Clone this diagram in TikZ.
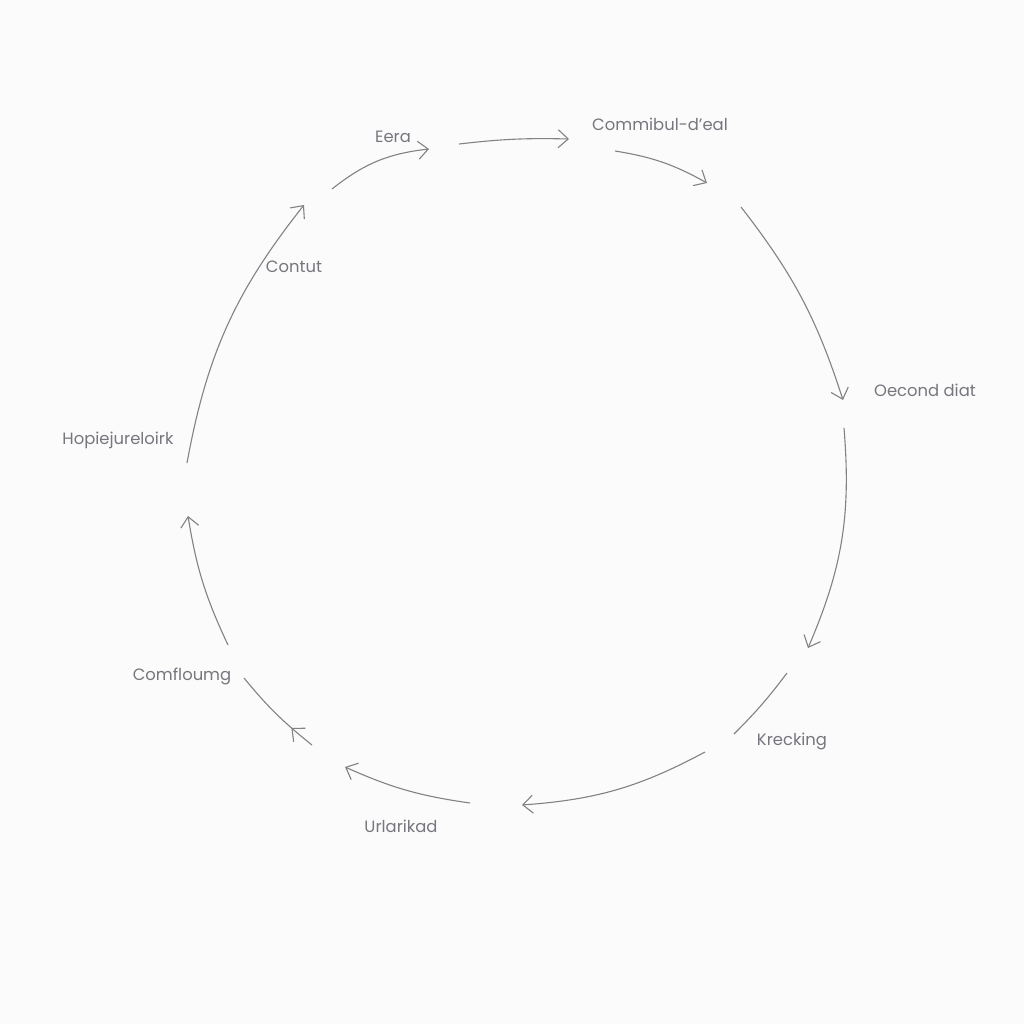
\documentclass[tikz,border=0pt]{standalone}
\usepackage{fontspec}
\setmainfont{Poppins}
\usetikzlibrary{arrows.meta,decorations.markings}
\definecolor{bgc}{RGB}{251,251,251}
\definecolor{linec}{RGB}{130,130,133}
\definecolor{textc}{RGB}{118,118,126}
\tikzset{
  lbl/.style={font=\fontsize{8.2}{10}\selectfont, text=textc, inner sep=0pt},
  conn/.style={draw=linec, line width=0.55pt, -{Straight Barb[length=5pt,width=9pt,line width=0.55pt]}},
  plain/.style={draw=linec, line width=0.55pt},
}
\begin{document}
\begin{tikzpicture}[x=0.5pt,y=-0.5pt]
\fill[bgc] (0,0) rectangle (1024,1024);
\useasboundingbox (0,0) rectangle (1024,1024);
% labels
\node[lbl] (eera) at (393,137) {Eera};
\node[lbl] (comm) at (660,124) {Commibul-d'eal};
\node[lbl] (cont) at (294,267) {Contut};
\node[lbl] (oec) at (925,390) {Oecond diat};
\node[lbl] (hop) at (118,440) {Hopiejureloirk};
\node[lbl] (comf) at (182,676) {Comfloumg};
\node[lbl] (url) at (401,826) {Urlarikad};
\node[lbl] (kre) at (792,741) {Krecking};
% endpoints
\coordinate (a1) at (332,189); \coordinate (b1) at (429,149);
\coordinate (a2) at (459,144); \coordinate (b2) at (569,139);
\coordinate (a3) at (615,151); \coordinate (b3) at (707,183);
\coordinate (a4) at (741,207); \coordinate (b4) at (843,400);
\coordinate (a5) at (844,428); \coordinate (b5) at (808,648);
\coordinate (a6) at (787,673); \coordinate (b6) at (734,734);
\coordinate (a7) at (705,752); \coordinate (b7) at (522,805);
\coordinate (a8) at (470,803); \coordinate (b8) at (345,767);
\coordinate (a9) at (312,745); \coordinate (b9) at (244,678);
\coordinate (a10) at (228,645); \coordinate (b10) at (188,516);
\coordinate (a11) at (187,463); \coordinate (b11) at (304,205);
% connectors
\draw[conn] (a1) to[bend left=16] (b1);
\draw[conn] (a2) to[bend left=4] (b2);
\draw[conn] (a3) to[bend left=10] (b3);
\draw[conn] (a4) to[bend left=10] (b4);
\draw[conn] (a5) to[bend left=14] (b5);
\draw[plain] (a6) to[bend left=4] (b6);
\draw[conn] (a7) to[bend left=12] (b7);
\draw[conn] (a8) to[bend left=8] (b8);
\draw[plain, postaction={decorate}, decoration={markings, mark=at position 0.28 with {\arrow{Straight Barb[length=5pt,width=9pt,line width=0.55pt]}}}] (a9) to[bend left=6] (b9);
\draw[conn] (a10) to[bend left=8] (b10);
\draw[conn] (a11) to[bend left=14] (b11);
\end{tikzpicture}
\end{document}
